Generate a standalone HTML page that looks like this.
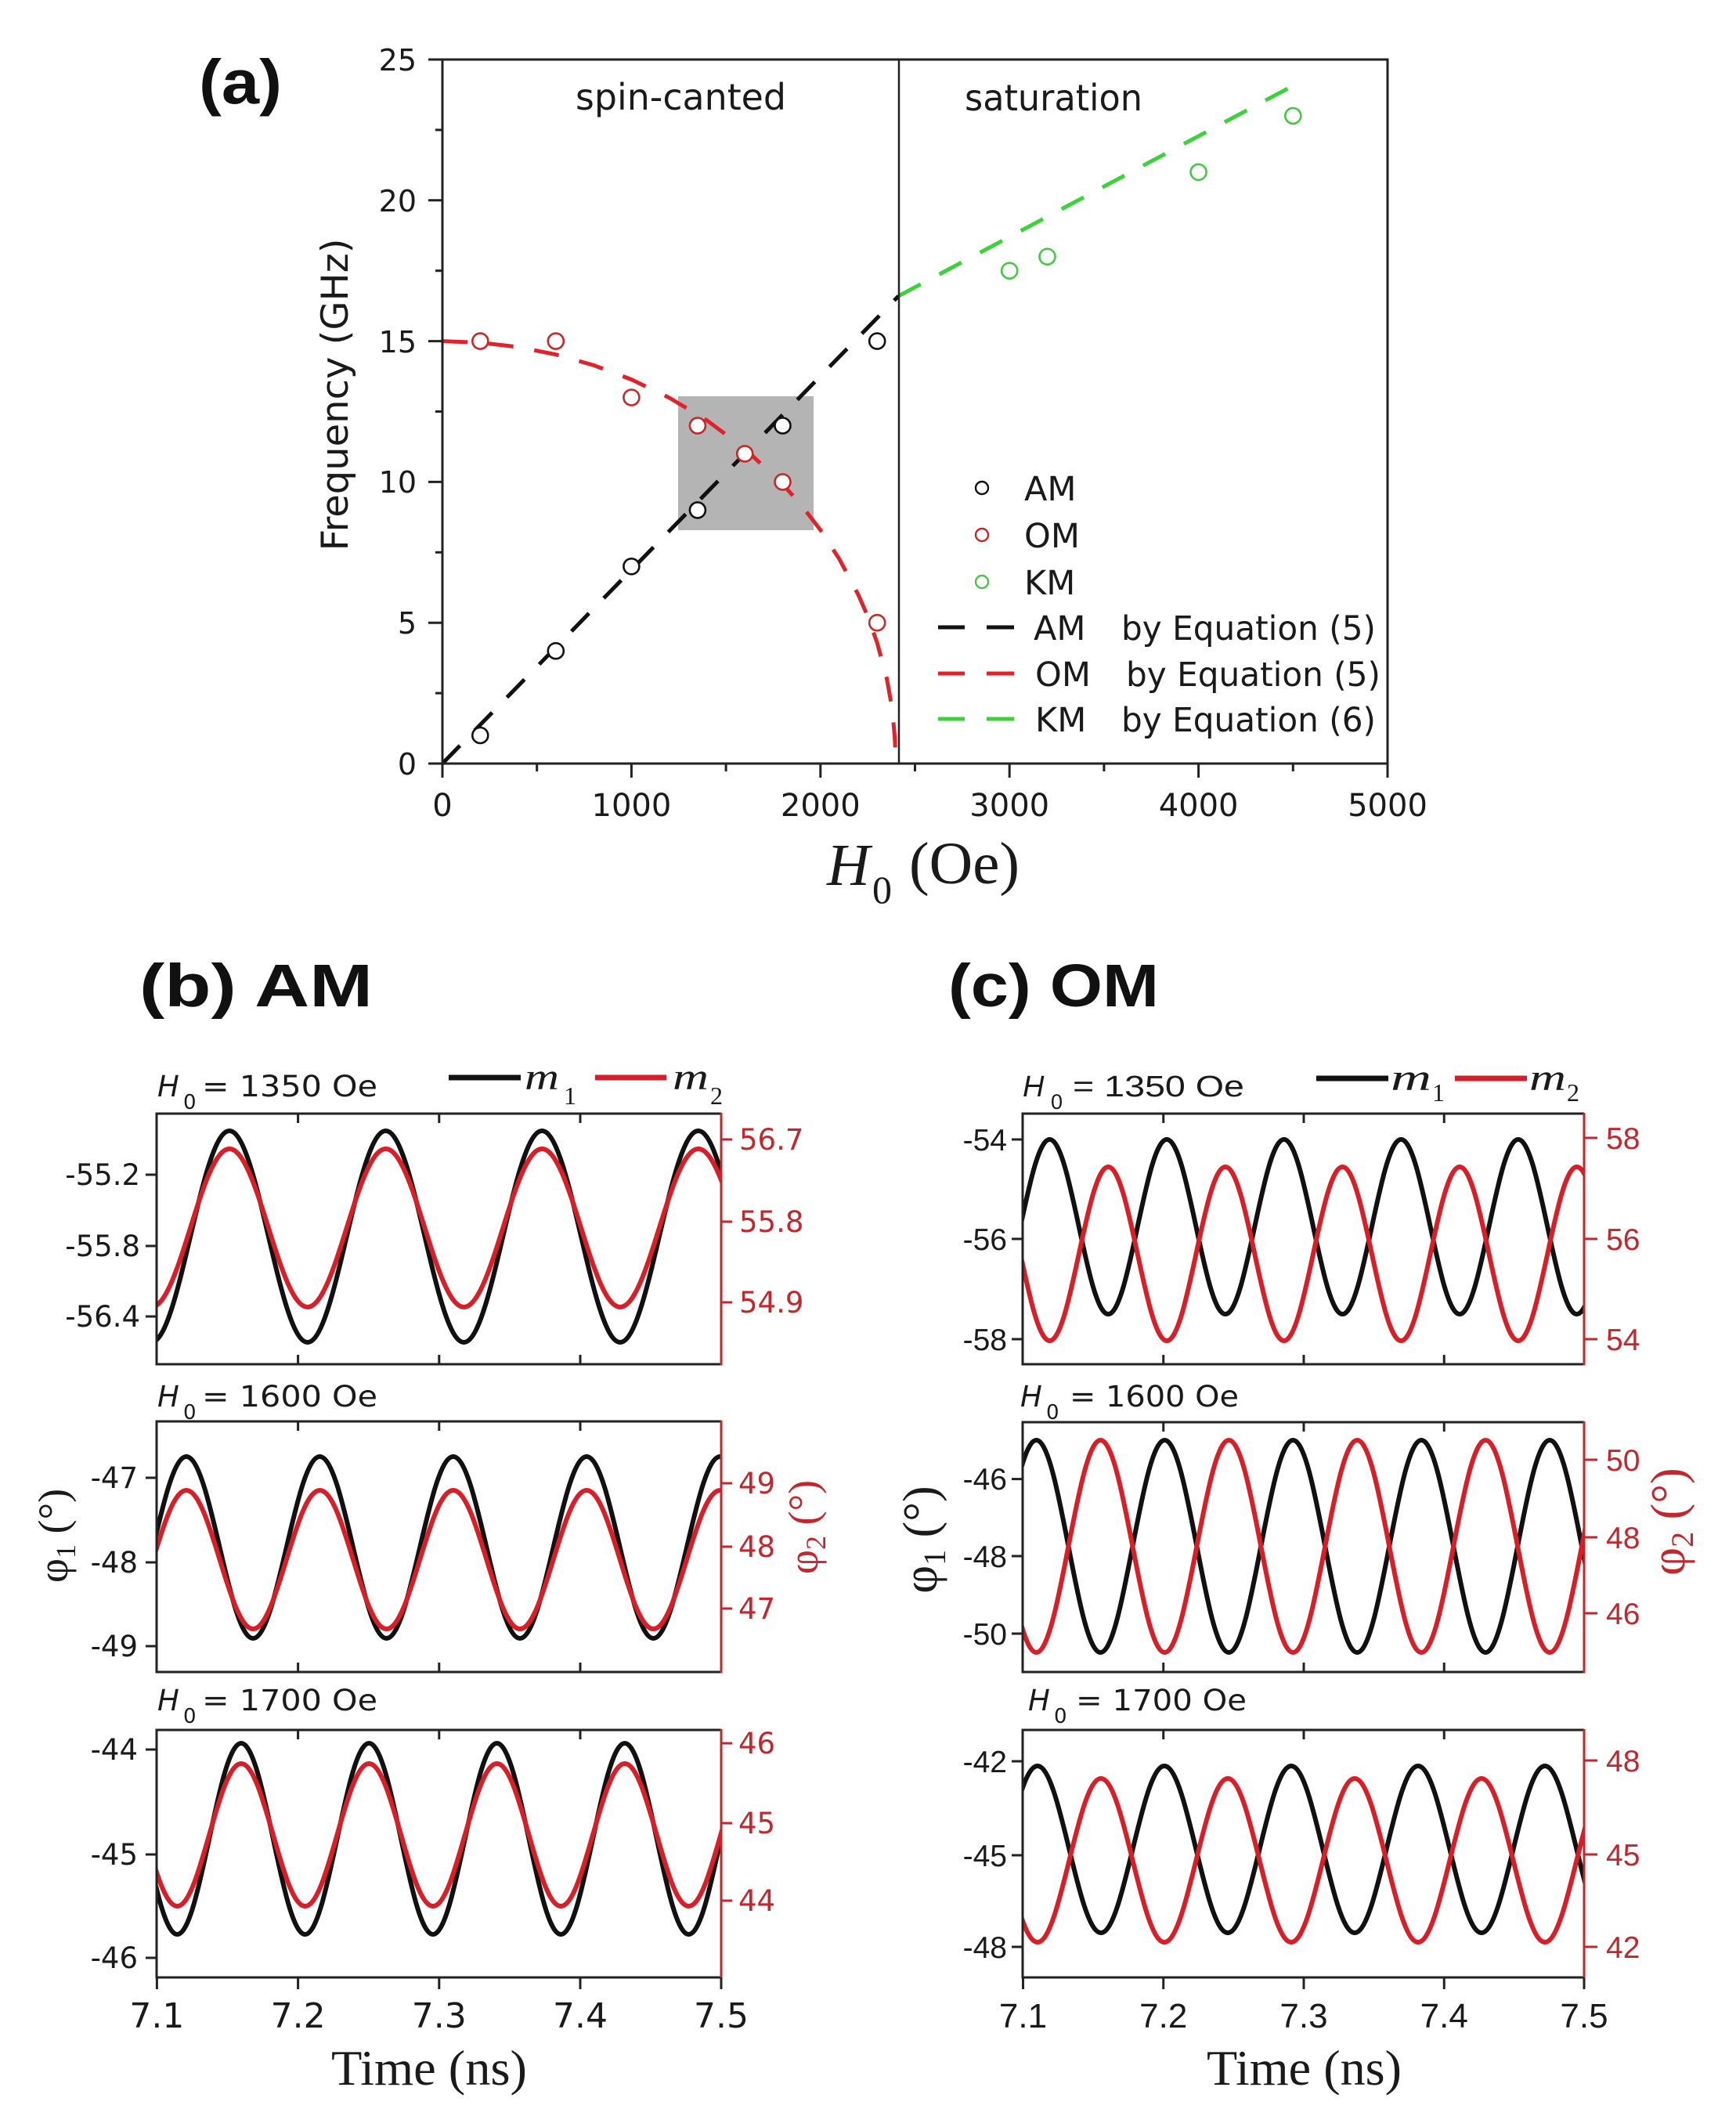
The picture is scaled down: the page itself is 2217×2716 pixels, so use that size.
<!DOCTYPE html>
<html>
<head>
<meta charset="utf-8">
<style>
html,body{margin:0;padding:0;background:#fff;}
svg{display:block;}
.dj{font-family:"DejaVu Sans","Liberation Sans",sans-serif;}
.ls{font-family:"Liberation Sans","DejaVu Sans",sans-serif;}
.sf{font-family:"Liberation Serif","DejaVu Serif",serif;}
</style>
</head>
<body>
<svg width="2217" height="2716" viewBox="0 0 2217 2716" xmlns="http://www.w3.org/2000/svg">
<defs>
  <clipPath id="ca"><rect x="565" y="76" width="1207" height="899"/></clipPath>
  <clipPath id="cb1"><rect x="200" y="1422" width="721" height="320"/></clipPath>
  <clipPath id="cb2"><rect x="200" y="1815" width="721" height="320"/></clipPath>
  <clipPath id="cb3"><rect x="200" y="2209" width="721" height="316"/></clipPath>
  <clipPath id="cc1"><rect x="1306" y="1422" width="717" height="320"/></clipPath>
  <clipPath id="cc2"><rect x="1306" y="1816" width="717" height="319"/></clipPath>
  <clipPath id="cc3"><rect x="1306" y="2209" width="717" height="316"/></clipPath>
</defs>

<!-- ================= PANEL A ================= -->
<text x="254" y="132" class="ls" font-weight="bold" font-size="80" textLength="106" lengthAdjust="spacingAndGlyphs" fill="#111">(a)</text>

<!-- gray box -->
<rect x="866" y="506" width="173" height="171" fill="#b4b4b4"/>

<g clip-path="url(#ca)">
  <!-- AM dashed -->
  <line x1="565" y1="975" x2="1147.5" y2="378" stroke="#111" stroke-width="5" stroke-dasharray="32 27"/>
  <!-- OM dashed -->
  <path d="M565,435.6 L613.3,437.5 L661.6,443.1 L709.8,452.7 L758.1,466.4 L806.4,484.6 L854.7,507.9 L903,536.9 L951.2,573 L999.5,618.2 L1023.7,645.4 L1047.8,676.8 L1071.9,713.9 L1096.1,759.4 L1108.2,787.3 L1120.2,820.9 L1132.3,865.5 L1139.5,905.5 L1142.5,940 L1144.4,975" fill="none" stroke="#e0232b" stroke-width="5" stroke-dasharray="32 27"/>
  <!-- KM dashed -->
  <line x1="1147.5" y1="378" x2="1654" y2="108" stroke="#3cd23c" stroke-width="5" stroke-dasharray="32 27"/>
</g>

<!-- divider -->
<line x1="1148" y1="76" x2="1148" y2="975" stroke="#222" stroke-width="2.5"/>

<!-- markers -->
<g fill="#fff" stroke-width="2.6">
  <g stroke="#111">
    <circle cx="613.3" cy="939" r="10"/>
    <circle cx="709.8" cy="831.2" r="10"/>
    <circle cx="806.4" cy="723.3" r="10"/>
    <circle cx="890.9" cy="651.4" r="10"/>
    <circle cx="999.5" cy="543.5" r="10"/>
    <circle cx="1120.2" cy="435.6" r="10"/>
  </g>
  <g stroke="#c62828">
    <circle cx="613.3" cy="435.6" r="10"/>
    <circle cx="709.8" cy="435.6" r="10"/>
    <circle cx="806.4" cy="507.5" r="10"/>
    <circle cx="890.9" cy="543.5" r="10"/>
    <circle cx="951.2" cy="579.4" r="10"/>
    <circle cx="999.5" cy="615.4" r="10"/>
    <circle cx="1120.2" cy="795.2" r="10"/>
  </g>
  <g stroke="#46c846">
    <circle cx="1289.2" cy="345.7" r="10"/>
    <circle cx="1337.5" cy="327.7" r="10"/>
    <circle cx="1530.6" cy="219.8" r="10"/>
    <circle cx="1651.3" cy="147.9" r="10"/>
  </g>
</g>

<!-- frame -->
<rect x="565" y="76" width="1207" height="899" fill="none" stroke="#222" stroke-width="3"/>

<!-- y ticks -->
<g stroke="#222" stroke-width="3">
  <line x1="547" y1="975" x2="565" y2="975"/>
  <line x1="547" y1="795.2" x2="565" y2="795.2"/>
  <line x1="547" y1="615.4" x2="565" y2="615.4"/>
  <line x1="547" y1="435.6" x2="565" y2="435.6"/>
  <line x1="547" y1="255.8" x2="565" y2="255.8"/>
  <line x1="547" y1="76" x2="565" y2="76"/>
  <line x1="556" y1="885.1" x2="565" y2="885.1"/>
  <line x1="556" y1="705.3" x2="565" y2="705.3"/>
  <line x1="556" y1="525.5" x2="565" y2="525.5"/>
  <line x1="556" y1="345.7" x2="565" y2="345.7"/>
  <line x1="556" y1="165.9" x2="565" y2="165.9"/>
  <!-- x ticks -->
  <line x1="565" y1="975" x2="565" y2="993"/>
  <line x1="806.4" y1="975" x2="806.4" y2="993"/>
  <line x1="1047.8" y1="975" x2="1047.8" y2="993"/>
  <line x1="1289.2" y1="975" x2="1289.2" y2="993"/>
  <line x1="1530.6" y1="975" x2="1530.6" y2="993"/>
  <line x1="1772" y1="975" x2="1772" y2="993"/>
  <line x1="685.7" y1="975" x2="685.7" y2="985"/>
  <line x1="927.1" y1="975" x2="927.1" y2="985"/>
  <line x1="1168.5" y1="975" x2="1168.5" y2="985"/>
  <line x1="1409.9" y1="975" x2="1409.9" y2="985"/>
  <line x1="1651.3" y1="975" x2="1651.3" y2="985"/>
</g>

<g class="dj" font-size="38" fill="#1a1a1a" text-anchor="end">
  <text x="532" y="989">0</text>
  <text x="532" y="809">5</text>
  <text x="532" y="629">10</text>
  <text x="532" y="450">15</text>
  <text x="532" y="270">20</text>
  <text x="532" y="90">25</text>
</g>
<g class="dj" font-size="40" fill="#1a1a1a" text-anchor="middle">
  <text x="565" y="1042">0</text>
  <text x="806.4" y="1042">1000</text>
  <text x="1047.8" y="1042">2000</text>
  <text x="1289.2" y="1042">3000</text>
  <text x="1530.6" y="1042">4000</text>
  <text x="1772" y="1042">5000</text>
</g>

<text class="dj" font-size="47" fill="#1a1a1a" text-anchor="middle" transform="translate(444,504) rotate(-90)" textLength="399" lengthAdjust="spacingAndGlyphs">Frequency (GHz)</text>

<text class="sf" x="1056" y="1130" font-size="76" font-style="italic" fill="#1a1a1a">H</text>
<text class="sf" x="1114" y="1153" font-size="50" fill="#1a1a1a">0</text>
<text class="sf" x="1161" y="1128" font-size="76" fill="#1a1a1a" textLength="141" lengthAdjust="spacingAndGlyphs">(Oe)</text>

<text class="dj" x="735" y="140" font-size="46" fill="#1a1a1a" textLength="269" lengthAdjust="spacingAndGlyphs">spin-canted</text>
<text class="dj" x="1232" y="141" font-size="46" fill="#1a1a1a" textLength="227" lengthAdjust="spacingAndGlyphs">saturation</text>

<!-- legend a -->
<g fill="#fff" stroke-width="2.4">
  <circle cx="1254" cy="623" r="8" stroke="#111"/>
  <circle cx="1254" cy="683" r="8" stroke="#c62828"/>
  <circle cx="1254" cy="743" r="8" stroke="#46c846"/>
</g>
<g stroke-width="5">
  <line x1="1198" y1="801" x2="1232" y2="801" stroke="#111"/>
  <line x1="1260" y1="801" x2="1295" y2="801" stroke="#111"/>
  <line x1="1198" y1="860" x2="1232" y2="860" stroke="#e0232b"/>
  <line x1="1260" y1="860" x2="1295" y2="860" stroke="#e0232b"/>
  <line x1="1198" y1="918" x2="1232" y2="918" stroke="#3cd23c"/>
  <line x1="1260" y1="918" x2="1295" y2="918" stroke="#3cd23c"/>
</g>
<g class="dj" font-size="43" fill="#1a1a1a">
  <text x="1308" y="639">AM</text>
  <text x="1308" y="699">OM</text>
  <text x="1308" y="759">KM</text>
  <text x="1320" y="817">AM</text>
  <text x="1432" y="817" textLength="325" lengthAdjust="spacingAndGlyphs">by Equation (5)</text>
  <text x="1322" y="876">OM</text>
  <text x="1438" y="876" textLength="325" lengthAdjust="spacingAndGlyphs">by Equation (5)</text>
  <text x="1322" y="934">KM</text>
  <text x="1432" y="934" textLength="325" lengthAdjust="spacingAndGlyphs">by Equation (6)</text>
</g>

<!-- ================= PANEL B ================= -->
<text x="178" y="1285" class="ls" font-weight="bold" font-size="77" fill="#111" textLength="298" lengthAdjust="spacingAndGlyphs">(b)  AM</text>

<!-- headers -->
<g class="dj" fill="#1a1a1a">
  <text x="201" y="1400" font-size="37" font-style="italic">H</text>
  <text x="234" y="1416" font-size="26">0</text>
  <text x="258" y="1400" font-size="37" textLength="224" lengthAdjust="spacingAndGlyphs">= 1350 Oe</text>
  <text x="201" y="1796" font-size="37" font-style="italic">H</text>
  <text x="234" y="1812" font-size="26">0</text>
  <text x="258" y="1796" font-size="37" textLength="224" lengthAdjust="spacingAndGlyphs">= 1600 Oe</text>
  <text x="201" y="2184" font-size="37" font-style="italic">H</text>
  <text x="234" y="2200" font-size="26">0</text>
  <text x="258" y="2184" font-size="37" textLength="224" lengthAdjust="spacingAndGlyphs">= 1700 Oe</text>
</g>
<!-- legend b -->
<line x1="573" y1="1376" x2="665" y2="1376" stroke="#111" stroke-width="7"/>
<line x1="760" y1="1376" x2="851" y2="1376" stroke="#d0202a" stroke-width="7"/>
<g class="sf" fill="#1a1a1a">
  <text x="670" y="1391" font-size="48" font-style="italic" textLength="44" lengthAdjust="spacingAndGlyphs">m</text>
  <text x="720" y="1410" font-size="32">1</text>
  <text x="859" y="1391" font-size="48" font-style="italic" textLength="46" lengthAdjust="spacingAndGlyphs">m</text>
  <text x="907" y="1410" font-size="32">2</text>
</g>

<!-- curves b -->
<g fill="none" stroke-width="6" stroke-linejoin="round">
  <g clip-path="url(#cb1)">
    <path stroke="#111" d="M93.4,1444 c36.27,0 63.53,270 99.8,270 s63.53,-270 99.8,-270 s63.53,270 99.8,270 s63.53,-270 99.8,-270 s63.53,270 99.8,270 s63.53,-270 99.8,-270 s63.53,270 99.8,270 s63.53,-270 99.8,-270 s63.53,270 99.8,270"/>
    <path stroke="#d81e26" d="M93.4,1467 c36.27,0 63.53,202 99.8,202 s63.53,-202 99.8,-202 s63.53,202 99.8,202 s63.53,-202 99.8,-202 s63.53,202 99.8,202 s63.53,-202 99.8,-202 s63.53,202 99.8,202 s63.53,-202 99.8,-202 s63.53,202 99.8,202"/>
  </g>
  <g clip-path="url(#cb2)">
    <path stroke="#111" d="M67.6,1860 c30.96,0 54.24,232 85.2,232 s54.24,-232 85.2,-232 s54.24,232 85.2,232 s54.24,-232 85.2,-232 s54.24,232 85.2,232 s54.24,-232 85.2,-232 s54.24,232 85.2,232 s54.24,-232 85.2,-232 s54.24,232 85.2,232 s54.24,-232 85.2,-232 s54.24,232 85.2,232"/>
    <path stroke="#d81e26" d="M67.6,1903 c30.96,0 54.24,177 85.2,177 s54.24,-177 85.2,-177 s54.24,177 85.2,177 s54.24,-177 85.2,-177 s54.24,177 85.2,177 s54.24,-177 85.2,-177 s54.24,177 85.2,177 s54.24,-177 85.2,-177 s54.24,177 85.2,177 s54.24,-177 85.2,-177 s54.24,177 85.2,177"/>
  </g>
  <g clip-path="url(#cb3)">
    <path stroke="#111" d="M144.7,2226 c29.67,0 51.98,244 81.65,244 s51.98,-244 81.65,-244 s51.98,244 81.65,244 s51.98,-244 81.65,-244 s51.98,244 81.65,244 s51.98,-244 81.65,-244 s51.98,244 81.65,244 s51.98,-244 81.65,-244 s51.98,244 81.65,244 s51.98,-244 81.65,-244 s51.98,244 81.65,244"/>
    <path stroke="#d81e26" d="M144.7,2252 c29.67,0 51.98,182 81.65,182 s51.98,-182 81.65,-182 s51.98,182 81.65,182 s51.98,-182 81.65,-182 s51.98,182 81.65,182 s51.98,-182 81.65,-182 s51.98,182 81.65,182 s51.98,-182 81.65,-182 s51.98,182 81.65,182 s51.98,-182 81.65,-182 s51.98,182 81.65,182"/>
  </g>
</g>

<!-- frames b -->
<g stroke-width="3" fill="none">
  <path d="M921,1422 L200,1422 L200,1742 L921,1742" stroke="#222"/>
  <line x1="921" y1="1421" x2="921" y2="1743.5" stroke="#c1272d"/>
  <path d="M921,1815 L200,1815 L200,2135 L921,2135" stroke="#222"/>
  <line x1="921" y1="1814" x2="921" y2="2136.5" stroke="#c1272d"/>
  <path d="M921,2209 L200,2209 L200,2525 L921,2525" stroke="#222"/>
  <line x1="921" y1="2208" x2="921" y2="2526.5" stroke="#c1272d"/>
</g>
<!-- ticks b -->
<g stroke="#222" stroke-width="3">
  <line x1="380.6" y1="1422" x2="380.6" y2="1434"/><line x1="560.8" y1="1422" x2="560.8" y2="1434"/><line x1="741" y1="1422" x2="741" y2="1434"/>
  <line x1="380.6" y1="1742" x2="380.6" y2="1730"/><line x1="560.8" y1="1742" x2="560.8" y2="1730"/><line x1="741" y1="1742" x2="741" y2="1730"/>
  <line x1="380.6" y1="1815" x2="380.6" y2="1827"/><line x1="560.8" y1="1815" x2="560.8" y2="1827"/><line x1="741" y1="1815" x2="741" y2="1827"/>
  <line x1="380.6" y1="2135" x2="380.6" y2="2123"/><line x1="560.8" y1="2135" x2="560.8" y2="2123"/><line x1="741" y1="2135" x2="741" y2="2123"/>
  <line x1="380.6" y1="2209" x2="380.6" y2="2221"/><line x1="560.8" y1="2209" x2="560.8" y2="2221"/><line x1="741" y1="2209" x2="741" y2="2221"/>
  <line x1="200.4" y1="2525" x2="200.4" y2="2540"/><line x1="380.6" y1="2525" x2="380.6" y2="2540"/><line x1="560.8" y1="2525" x2="560.8" y2="2540"/><line x1="741" y1="2525" x2="741" y2="2540"/><line x1="921" y1="2525" x2="921" y2="2540"/>
  <line x1="186" y1="1500" x2="200" y2="1500"/><line x1="186" y1="1591" x2="200" y2="1591"/><line x1="186" y1="1681" x2="200" y2="1681"/>
  <line x1="186" y1="1887" x2="200" y2="1887"/><line x1="186" y1="1995" x2="200" y2="1995"/><line x1="186" y1="2102" x2="200" y2="2102"/>
  <line x1="186" y1="2234" x2="200" y2="2234"/><line x1="186" y1="2368" x2="200" y2="2368"/><line x1="186" y1="2500" x2="200" y2="2500"/>
</g>
<g stroke="#c1272d" stroke-width="3">
  <line x1="921" y1="1455" x2="935" y2="1455"/><line x1="921" y1="1560" x2="935" y2="1560"/><line x1="921" y1="1663" x2="935" y2="1663"/>
  <line x1="921" y1="1894" x2="935" y2="1894"/><line x1="921" y1="1975" x2="935" y2="1975"/><line x1="921" y1="2054" x2="935" y2="2054"/>
  <line x1="921" y1="2226" x2="935" y2="2226"/><line x1="921" y1="2328" x2="935" y2="2328"/><line x1="921" y1="2427" x2="935" y2="2427"/>
</g>
<g class="dj" font-size="37" fill="#1a1a1a" text-anchor="end">
  <text x="179" y="1513">-55.2</text><text x="179" y="1604">-55.8</text><text x="179" y="1694">-56.4</text>
  <text x="176" y="1900">-47</text><text x="176" y="2008">-48</text><text x="176" y="2115">-49</text>
  <text x="176" y="2247">-44</text><text x="176" y="2381">-45</text><text x="176" y="2513">-46</text>
</g>
<g class="dj" font-size="37" fill="#c1272d">
  <text x="944" y="1468">56.7</text><text x="944" y="1573">55.8</text><text x="944" y="1676">54.9</text>
  <text x="943" y="1907">49</text><text x="943" y="1988">48</text><text x="943" y="2067">47</text>
  <text x="943" y="2239">46</text><text x="943" y="2341">45</text><text x="943" y="2440">44</text>
</g>
<g class="dj" font-size="44" fill="#1a1a1a" text-anchor="middle">
  <text x="200.4" y="2589">7.1</text><text x="380.6" y="2589">7.2</text><text x="560.8" y="2589">7.3</text><text x="741" y="2589">7.4</text><text x="921" y="2589">7.5</text>
</g>
<text class="sf" x="423" y="2662" font-size="64" fill="#1a1a1a" textLength="250" lengthAdjust="spacingAndGlyphs">Time (ns)</text>
<text class="sf" font-size="54" fill="#1a1a1a" text-anchor="middle" transform="translate(86,1961) rotate(-90)">φ<tspan font-size="36" dy="10">1</tspan><tspan dy="-10"> (°)</tspan></text>
<text class="sf" font-size="54" fill="#c1272d" text-anchor="middle" transform="translate(1044,1950) rotate(-90)">φ<tspan font-size="36" dy="10">2</tspan><tspan dy="-10"> (°)</tspan></text>

<!-- ================= PANEL C ================= -->
<text x="1211" y="1285" class="ls" font-weight="bold" font-size="77" fill="#111" textLength="269" lengthAdjust="spacingAndGlyphs">(c) OM</text>

<g class="ls" fill="#1a1a1a">
  <text x="1306" y="1400" font-size="38" font-style="italic">H</text>
  <text x="1342" y="1416" font-size="27">0</text>
  <text x="1370" y="1400" font-size="38" textLength="219" lengthAdjust="spacingAndGlyphs">= 1350 Oe</text>
</g>
<g class="dj" fill="#1a1a1a">
  <text x="1303" y="1796" font-size="37" font-style="italic">H</text>
  <text x="1336" y="1812" font-size="26">0</text>
  <text x="1366" y="1796" font-size="37" textLength="216" lengthAdjust="spacingAndGlyphs">= 1600 Oe</text>
  <text x="1313" y="2184" font-size="37" font-style="italic">H</text>
  <text x="1346" y="2200" font-size="26">0</text>
  <text x="1374" y="2184" font-size="37" textLength="218" lengthAdjust="spacingAndGlyphs">= 1700 Oe</text>
</g>
<!-- legend c -->
<line x1="1681" y1="1377" x2="1773" y2="1377" stroke="#111" stroke-width="7"/>
<line x1="1858" y1="1377" x2="1950" y2="1377" stroke="#d0202a" stroke-width="7"/>
<g class="sf" fill="#1a1a1a">
  <text x="1776" y="1392" font-size="48" font-style="italic" textLength="52" lengthAdjust="spacingAndGlyphs">m</text>
  <text x="1829" y="1406" font-size="32">1</text>
  <text x="1953" y="1392" font-size="48" font-style="italic" textLength="47" lengthAdjust="spacingAndGlyphs">m</text>
  <text x="2001" y="1406" font-size="32">2</text>
</g>

<!-- curves c -->
<g fill="none" stroke-width="6" stroke-linejoin="round">
  <g clip-path="url(#cc1)">
    <path stroke="#111" d="M1190.9,1455 c27.18,0 47.62,223 74.8,223 s47.62,-223 74.8,-223 s47.62,223 74.8,223 s47.62,-223 74.8,-223 s47.62,223 74.8,223 s47.62,-223 74.8,-223 s47.62,223 74.8,223 s47.62,-223 74.8,-223 s47.62,223 74.8,223 s47.62,-223 74.8,-223 s47.62,223 74.8,223 s47.62,-223 74.8,-223 s47.62,223 74.8,223"/>
    <path stroke="#d81e26" d="M1190.9,1712 c27.18,0 47.62,-222 74.8,-222 s47.62,222 74.8,222 s47.62,-222 74.8,-222 s47.62,222 74.8,222 s47.62,-222 74.8,-222 s47.62,222 74.8,222 s47.62,-222 74.8,-222 s47.62,222 74.8,222 s47.62,-222 74.8,-222 s47.62,222 74.8,222 s47.62,-222 74.8,-222 s47.62,222 74.8,222 s47.62,-222 74.8,-222"/>
  </g>
  <g clip-path="url(#cc2)">
    <path stroke="#111" d="M1159.6,1839 c29.78,0 52.17,271 81.95,271 s52.17,-271 81.95,-271 s52.17,271 81.95,271 s52.17,-271 81.95,-271 s52.17,271 81.95,271 s52.17,-271 81.95,-271 s52.17,271 81.95,271 s52.17,-271 81.95,-271 s52.17,271 81.95,271 s52.17,-271 81.95,-271 s52.17,271 81.95,271 s52.17,-271 81.95,-271 s52.17,271 81.95,271"/>
    <path stroke="#d81e26" d="M1159.6,2110 c29.78,0 52.17,-271 81.95,-271 s52.17,271 81.95,271 s52.17,-271 81.95,-271 s52.17,271 81.95,271 s52.17,-271 81.95,-271 s52.17,271 81.95,271 s52.17,-271 81.95,-271 s52.17,271 81.95,271 s52.17,-271 81.95,-271 s52.17,271 81.95,271 s52.17,-271 81.95,-271 s52.17,271 81.95,271 s52.17,-271 81.95,-271"/>
  </g>
  <g clip-path="url(#cc3)">
    <path stroke="#111" d="M1163,2255 c29.44,0 51.56,213 81,213 s51.56,-213 81,-213 s51.56,213 81,213 s51.56,-213 81,-213 s51.56,213 81,213 s51.56,-213 81,-213 s51.56,213 81,213 s51.56,-213 81,-213 s51.56,213 81,213 s51.56,-213 81,-213 s51.56,213 81,213 s51.56,-213 81,-213 s51.56,213 81,213"/>
    <path stroke="#d81e26" d="M1163,2480 c29.44,0 51.56,-209 81,-209 s51.56,209 81,209 s51.56,-209 81,-209 s51.56,209 81,209 s51.56,-209 81,-209 s51.56,209 81,209 s51.56,-209 81,-209 s51.56,209 81,209 s51.56,-209 81,-209 s51.56,209 81,209 s51.56,-209 81,-209 s51.56,209 81,209 s51.56,-209 81,-209"/>
  </g>
</g>

<!-- frames c -->
<g stroke-width="3" fill="none">
  <path d="M2023,1422 L1306,1422 L1306,1742 L2023,1742" stroke="#222"/>
  <line x1="2023" y1="1421" x2="2023" y2="1743.5" stroke="#c1272d"/>
  <path d="M2023,1816 L1306,1816 L1306,2135 L2023,2135" stroke="#222"/>
  <line x1="2023" y1="1815" x2="2023" y2="2136.5" stroke="#c1272d"/>
  <path d="M2023,2209 L1306,2209 L1306,2525 L2023,2525" stroke="#222"/>
  <line x1="2023" y1="2208" x2="2023" y2="2526.5" stroke="#c1272d"/>
</g>
<g stroke="#222" stroke-width="3">
  <line x1="1485.75" y1="1422" x2="1485.75" y2="1434"/><line x1="1665" y1="1422" x2="1665" y2="1434"/><line x1="1844.25" y1="1422" x2="1844.25" y2="1434"/>
  <line x1="1485.75" y1="1742" x2="1485.75" y2="1730"/><line x1="1665" y1="1742" x2="1665" y2="1730"/><line x1="1844.25" y1="1742" x2="1844.25" y2="1730"/>
  <line x1="1485.75" y1="1816" x2="1485.75" y2="1828"/><line x1="1665" y1="1816" x2="1665" y2="1828"/><line x1="1844.25" y1="1816" x2="1844.25" y2="1828"/>
  <line x1="1485.75" y1="2135" x2="1485.75" y2="2123"/><line x1="1665" y1="2135" x2="1665" y2="2123"/><line x1="1844.25" y1="2135" x2="1844.25" y2="2123"/>
  <line x1="1485.75" y1="2209" x2="1485.75" y2="2221"/><line x1="1665" y1="2209" x2="1665" y2="2221"/><line x1="1844.25" y1="2209" x2="1844.25" y2="2221"/>
  <line x1="1306.5" y1="2525" x2="1306.5" y2="2540"/><line x1="1485.75" y1="2525" x2="1485.75" y2="2540"/><line x1="1665" y1="2525" x2="1665" y2="2540"/><line x1="1844.25" y1="2525" x2="1844.25" y2="2540"/><line x1="2023" y1="2525" x2="2023" y2="2540"/>
  <line x1="1292" y1="1455" x2="1306" y2="1455"/><line x1="1292" y1="1582" x2="1306" y2="1582"/><line x1="1292" y1="1710" x2="1306" y2="1710"/>
  <line x1="1292" y1="1888.6" x2="1306" y2="1888.6"/><line x1="1292" y1="1987" x2="1306" y2="1987"/><line x1="1292" y1="2086" x2="1306" y2="2086"/>
  <line x1="1292" y1="2249" x2="1306" y2="2249"/><line x1="1292" y1="2369" x2="1306" y2="2369"/><line x1="1292" y1="2486" x2="1306" y2="2486"/>
</g>
<g stroke="#c1272d" stroke-width="3">
  <line x1="2023" y1="1453" x2="2040" y2="1453"/><line x1="2023" y1="1582" x2="2040" y2="1582"/><line x1="2023" y1="1710" x2="2040" y2="1710"/>
  <line x1="2023" y1="1864" x2="2040" y2="1864"/><line x1="2023" y1="1963" x2="2040" y2="1963"/><line x1="2023" y1="2060" x2="2040" y2="2060"/>
  <line x1="2023" y1="2248" x2="2040" y2="2248"/><line x1="2023" y1="2368" x2="2040" y2="2368"/><line x1="2023" y1="2486" x2="2040" y2="2486"/>
</g>
<g class="ls" font-size="39" fill="#1a1a1a" text-anchor="end">
  <text x="1286" y="1469">-54</text><text x="1286" y="1596">-56</text><text x="1286" y="1724">-58</text>
  <text x="1286" y="1902">-46</text><text x="1286" y="2001">-48</text><text x="1286" y="2100">-50</text>
  <text x="1286" y="2263">-42</text><text x="1286" y="2383">-45</text><text x="1286" y="2500">-48</text>
</g>
<g class="ls" font-size="39" fill="#c1272d">
  <text x="2051" y="1467">58</text><text x="2051" y="1596">56</text><text x="2051" y="1724">54</text>
  <text x="2051" y="1878">50</text><text x="2051" y="1977">48</text><text x="2051" y="2074">46</text>
  <text x="2051" y="2262">48</text><text x="2051" y="2382">45</text><text x="2051" y="2500">42</text>
</g>
<g class="ls" font-size="44" fill="#1a1a1a" text-anchor="middle">
  <text x="1306.5" y="2589">7.1</text><text x="1485.75" y="2589">7.2</text><text x="1665" y="2589">7.3</text><text x="1844.25" y="2589">7.4</text><text x="2023" y="2589">7.5</text>
</g>
<text class="sf" x="1541" y="2662" font-size="64" fill="#1a1a1a" textLength="249" lengthAdjust="spacingAndGlyphs">Time (ns)</text>
<text class="sf" font-size="62" fill="#1a1a1a" text-anchor="middle" transform="translate(1196,1966) rotate(-90)">φ<tspan font-size="40" dy="11">1</tspan><tspan dy="-11"> (°)</tspan></text>
<text class="sf" font-size="62" fill="#c1272d" text-anchor="middle" transform="translate(2151,1943) rotate(-90)">φ<tspan font-size="40" dy="11">2</tspan><tspan dy="-11"> (°)</tspan></text>

</svg>
</body>
</html>
